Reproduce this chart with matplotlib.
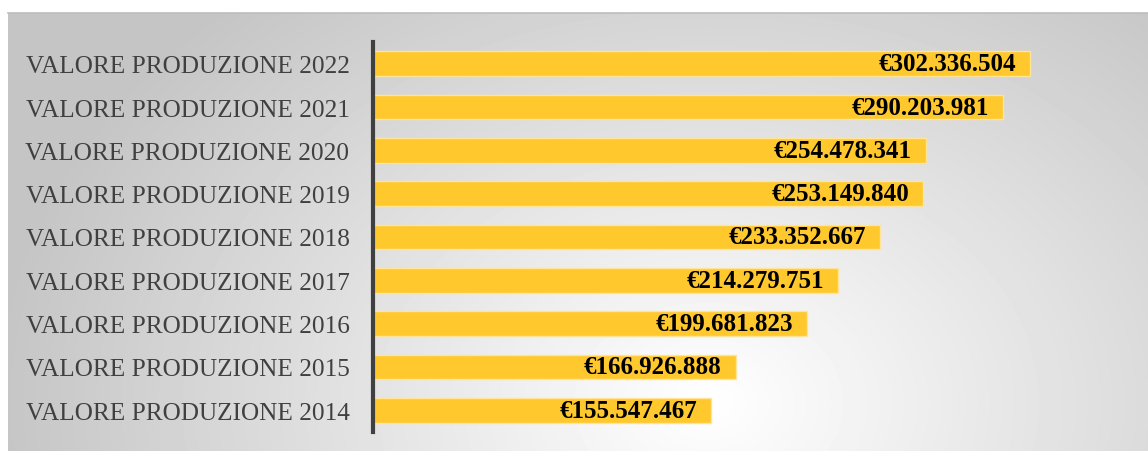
import numpy as np
import matplotlib.pyplot as plt

labels = ["VALORE PRODUZIONE 2014", "VALORE PRODUZIONE 2015", "VALORE PRODUZIONE 2016",
          "VALORE PRODUZIONE 2017", "VALORE PRODUZIONE 2018", "VALORE PRODUZIONE 2019",
          "VALORE PRODUZIONE 2020", "VALORE PRODUZIONE 2021", "VALORE PRODUZIONE 2022"]
values = [155547467, 166926888, 199681823, 214279751, 233352667,
          253149840, 254478341, 290203981, 302336504]
value_labels = ["€155.547.467", "€166.926.888", "€199.681.823", "€214.279.751", "€233.352.667",
                "€253.149.840", "€254.478.341", "€290.203.981", "€302.336.504"]

W, H = 1148, 452
fig = plt.figure(figsize=(W / 100, H / 100), dpi=100)
fig.patch.set_facecolor("white")

# radial gradient background panel
bg = fig.add_axes([8 / W, 0, 1 - 8 / W, (H - 14) / H])
yy, xx = np.mgrid[0:438, 0:1140]
cx, cy = 700, 390
d = np.sqrt((xx - cx) ** 2 + ((yy - cy) / 0.75) ** 2)
d = np.clip(d / 720, 0, 1)
shade = 1.0 - 0.23 * d
bg.imshow(shade, cmap="gray", vmin=0, vmax=1, aspect="auto", origin="upper")
bg.set_axis_off()
fig.add_artist(plt.Line2D([8 / W, 1], [(H - 14) / H, (H - 14) / H],
                          transform=fig.transFigure, color="#bdbdbd", lw=1.2))

# bars
ax = fig.add_axes([373 / W, 19 / H, (1140 - 373) / W, 390 / H])
ax.patch.set_alpha(0)
y = np.arange(len(values))
ax.barh(y, values, height=0.57, color="#FFC82C", edgecolor="#FFE49A", linewidth=1)
ax.set_ylim(-0.5, len(values) - 0.5)
ax.set_xlim(0, (1140 - 375) / 655 * 302336504)
ax.set_yticks(y)
ax.set_yticklabels(labels, fontsize=18.2, color="#404040", family="Liberation Serif")
ax.tick_params(axis="y", length=0, pad=17)
ax.set_xticks([])
for s in ["top", "right", "bottom"]:
    ax.spines[s].set_visible(False)
ax.spines["left"].set_color("#404040")
ax.spines["left"].set_linewidth(3)

for yi, v, t in zip(y, values, value_labels):
    ax.annotate(t, (v, yi), xytext=(-10, 0), textcoords="offset points",
                ha="right", va="center", fontsize=18, fontweight="bold",
                family="Liberation Serif", color="black")

fig.savefig("out.png", dpi=100)
